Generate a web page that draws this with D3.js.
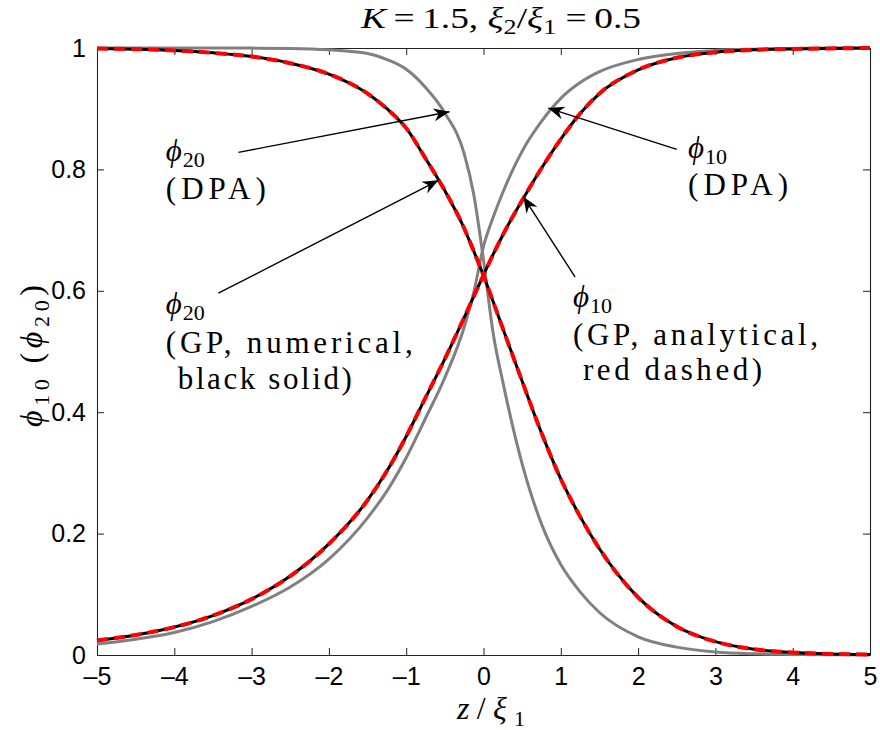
<!DOCTYPE html>
<html>
<head>
<meta charset="utf-8">
<script src="https://cdn.jsdelivr.net/npm/d3@7"></script>
<style>
  body { margin:0; background:#fff; }
</style>
</head>
<body>
<div id="chart"></div>
<script>
// domain wall profiles: GP (numerical / analytical) vs double-parabola approx

const Z = [-5,-4.5,-4,-3.5,-3,-2.5,-2,-1.5,-1.25,-1,-0.75,-0.5,-0.25,-0.125,0,
           0.125,0.25,0.5,0.75,1,1.25,1.5,2,2.5,3,3.5,4,4.5,5];

const PHI10_GP  = [0.024,0.033,0.046,0.065,0.092,0.130,0.183,0.255,0.303,0.360,0.424,0.488,0.556,0.591,0.626,
                   0.660,0.692,0.749,0.802,0.850,0.892,0.925,0.964,0.984,0.993,0.997,0.9985,0.9993,1.0];
const PHI20_GP  = [0.999,0.998,0.996,0.992,0.986,0.975,0.957,0.925,0.900,0.868,0.818,0.765,0.703,0.665,0.625,
                   0.582,0.538,0.451,0.366,0.290,0.228,0.175,0.095,0.047,0.022,0.0095,0.0042,0.0018,0.0008];
// analytical GP solution lies on top of the numerical one
const PHI10_AN  = PHI10_GP;
const PHI20_AN  = PHI20_GP;

const PHI10_DPA = [0.018,0.026,0.037,0.055,0.080,0.112,0.158,0.226,0.270,0.325,0.390,0.457,0.540,0.598,0.673,
                   0.721,0.762,0.830,0.879,0.917,0.943,0.961,0.981,0.991,0.996,0.998,0.999,1.0,1.0];
const PHI20_DPA = [1.0,1.0,1.0,1.0,0.9998,0.9993,0.997,0.991,0.981,0.965,0.935,0.893,0.826,0.758,0.651,
                   0.530,0.450,0.315,0.216,0.149,0.104,0.070,0.030,0.013,0.005,0.002,0.001,0.0004,0.0002];

const X_TICKS = [-5,-4,-3,-2,-1,0,1,2,3,4,5];
const Y_TICKS = [0,0.2,0.4,0.6,0.8,1];
const Y_TICK_LABELS = ["0","0.2","0.4","0.6","0.8","1"];

// annotations (data coordinates)
const NOTES = [
  { phi:"20", at:[-4.11,0.814], lines:["(DPA)"], widths:[100], dy:[38], tail:[-3.17,0.828], tip:[-0.44,0.895] },
  { phi:"20", at:[-4.11,0.561], lines:["(GP, numerical,","black solid)"], widths:[247,174], dy:[39,75], dx:[0,12],
    tail:[-3.43,0.596], tip:[-0.582,0.782] },
  { phi:"10", at:[2.646,0.818], lines:["(DPA)"], widths:[100], dy:[37], tail:[2.50,0.833], tip:[0.838,0.901] },
  { phi:"10", at:[1.158,0.574], lines:["(GP, analytical,","red dashed)"], widths:[245,179], dy:[38,73], dx:[0,10],
    tail:[1.184,0.623], tip:[0.515,0.755] },
];

const W = 880, H = 730;
const SERIF = "'Liberation Serif', 'DejaVu Serif', serif";
const SANS  = "'Liberation Sans', Arial, sans-serif";

const svg = d3.select("#chart").append("svg")
  .attr("width",W).attr("height",H).attr("viewBox",`0 0 ${W} ${H}`)
  .style("display","block");

const x = d3.scaleLinear().domain([-5,5]).range([97,870]);
const y = d3.scaleLinear().domain([0,1]).range([655,48]);

// axes box with inward ticks
const axisStyle = sel => sel
  .call(a=>a.select(".domain").attr("stroke","#222").attr("stroke-width",1.1))
  .call(a=>a.selectAll(".tick line").attr("stroke","#222").attr("stroke-width",1))
  .call(a=>a.selectAll("text").attr("fill","#000")
     .style("font-family",SANS).style("font-size","25px"));

svg.append("g").attr("transform","translate(0,655)")
  .call(d3.axisBottom(x).tickValues(X_TICKS).tickSizeInner(-7).tickSizeOuter(0).tickPadding(12)
    .tickFormat(d=>d<0?"\u2013"+Math.abs(d):String(d)))
  .call(axisStyle);
svg.append("g").attr("transform","translate(0,48)")
  .call(d3.axisTop(x).tickValues(X_TICKS).tickSizeInner(-7).tickSizeOuter(0).tickFormat(""))
  .call(axisStyle);
svg.append("g").attr("transform","translate(97,0)")
  .call(d3.axisLeft(y).tickValues(Y_TICKS).tickSizeInner(-7).tickSizeOuter(0).tickPadding(11)
    .tickFormat((d,i)=>Y_TICK_LABELS[i]))
  .call(axisStyle);
svg.append("g").attr("transform","translate(870,0)")
  .call(d3.axisRight(y).tickValues(Y_TICKS).tickSizeInner(-7).tickSizeOuter(0).tickFormat(""))
  .call(axisStyle);

// curves
const line = d3.line().x((d,i)=>x(Z[i])).y(d=>y(d)).curve(d3.curveMonotoneX);
const curves = svg.append("g").attr("fill","none").attr("stroke-linejoin","round");

[PHI10_DPA, PHI20_DPA].forEach(s=>{
  curves.append("path").attr("d",line(s)).attr("stroke","#808080").attr("stroke-width",3);
});
[PHI10_GP, PHI20_GP].forEach(s=>{
  curves.append("path").attr("d",line(s)).attr("stroke","#000").attr("stroke-width",3);
});
[PHI10_AN, PHI20_AN].forEach(s=>{
  curves.append("path").attr("d",line(s)).attr("stroke","#ff0000").attr("stroke-width",4)
    .attr("stroke-dasharray","11,6");
});

// arrowhead
svg.append("defs").append("marker").attr("id","head")
  .attr("viewBox","-17 -8 18 16").attr("refX",0).attr("refY",0)
  .attr("markerWidth",18).attr("markerHeight",16)
  .attr("markerUnits","userSpaceOnUse").attr("orient","auto")
  .append("path").attr("d","M0,0 L-16,-6.5 L-11,0 L-16,6.5 Z").attr("fill","#000");

const notes = svg.append("g");
NOTES.forEach(n=>{
  notes.append("line")
    .attr("x1",x(n.tail[0])).attr("y1",y(n.tail[1]))
    .attr("x2",x(n.tip[0])).attr("y2",y(n.tip[1]))
    .attr("stroke","#000").attr("stroke-width",1.4)
    .attr("marker-end","url(#head)");

  const px = x(n.at[0]), py = y(n.at[1]);
  const t = notes.append("text").attr("x",px).attr("y",py)
    .style("font-family",SERIF).style("font-size","31px").attr("fill","#000");
  t.append("tspan").style("font-style","italic").text("\u03D5");
  t.append("tspan").attr("dy",6).style("font-size","22px").attr("dx",1).text(n.phi);

  n.lines.forEach((s,i)=>{
    notes.append("text").attr("x",px+((n.dx&&n.dx[i])||0)).attr("y",py+n.dy[i])
      .attr("textLength",n.widths[i]).attr("lengthAdjust","spacing")
      .style("font-family",SERIF).style("font-size","31px").attr("fill","#000")
      .text(s);
  });
});

// title
const title = svg.append("text").attr("x",501).attr("y",28).attr("text-anchor","middle")
  .attr("textLength",280).attr("lengthAdjust","spacingAndGlyphs")
  .style("font-family",SERIF).style("font-size","30px").attr("fill","#000");
title.append("tspan").style("font-style","italic").text("K");
title.append("tspan").text("\u2009=\u20091.5, ");
title.append("tspan").style("font-style","italic").text("\u03BE");
title.append("tspan").attr("dy",6).style("font-size","21px").text("2");
title.append("tspan").attr("dy",-6).text("/");
title.append("tspan").style("font-style","italic").text("\u03BE");
title.append("tspan").attr("dy",6).style("font-size","21px").text("1");
title.append("tspan").attr("dy",-6).text(" =\u20090.5");

// x label
const xl = svg.append("text").attr("x",491).attr("y",719).attr("text-anchor","middle")
  .attr("textLength",68).attr("lengthAdjust","spacing")
  .style("font-family",SERIF).style("font-size","32px").attr("fill","#000");
xl.append("tspan").style("font-style","italic").text("z");
xl.append("tspan").text("/");
xl.append("tspan").style("font-style","italic").text("\u03BE");
xl.append("tspan").attr("dy",7).style("font-size","22px").text("1");

// y label
const yl = svg.append("text").attr("transform","translate(42,356) rotate(-90)")
  .attr("text-anchor","middle").attr("textLength",142).attr("lengthAdjust","spacing")
  .style("font-family",SERIF).style("font-size","32px").attr("fill","#000");
yl.append("tspan").style("font-style","italic").text("\u03D5");
yl.append("tspan").attr("dy",7).style("font-size","22px").text("10");
yl.append("tspan").attr("dy",-7).text("\u2009(");
yl.append("tspan").style("font-style","italic").text("\u03D5");
yl.append("tspan").attr("dy",7).style("font-size","22px").text("20");
yl.append("tspan").attr("dy",-7).text(")");
</script>
</body>
</html>
